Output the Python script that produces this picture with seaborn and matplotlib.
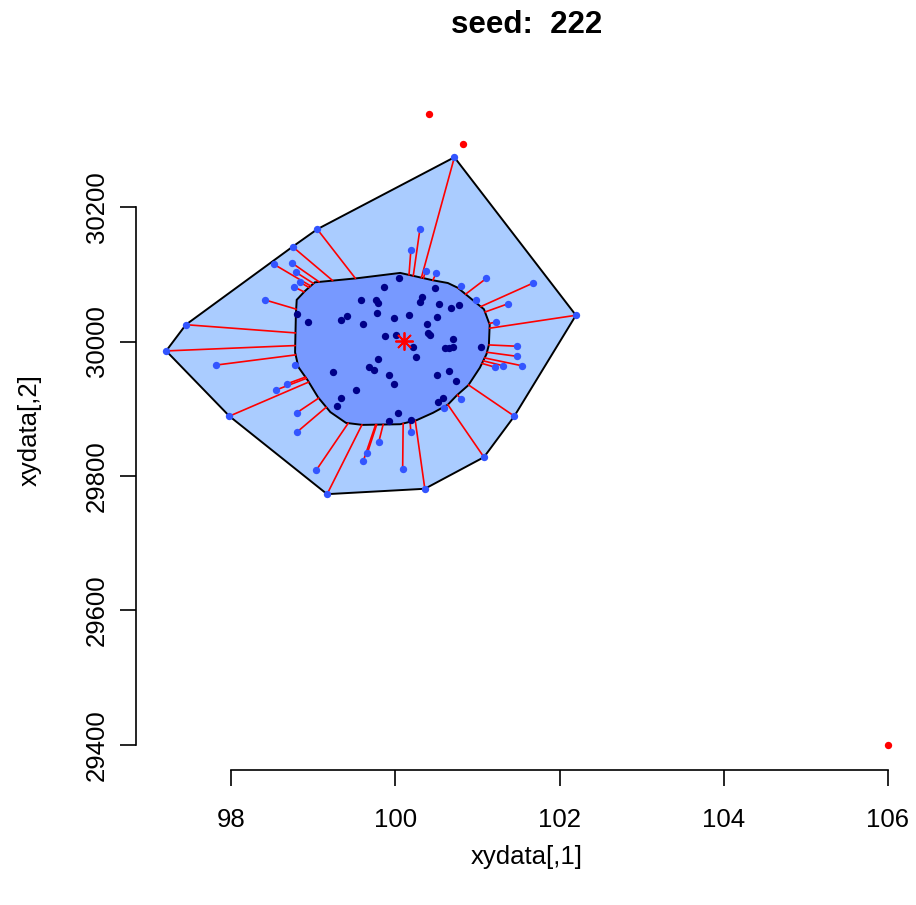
import numpy as np
import pandas as pd
import matplotlib
matplotlib.use("Agg")
import matplotlib.pyplot as plt
import seaborn as sns
from matplotlib.patches import Polygon

# ---- data -------------------------------------------------------------
# points inside the bag (depth region holding the central half)
bag_x = [100.05, 99.86, 100.48, 99.58, 99.77, 99.79, 100.33, 100.30, 100.53, 100.68,
         100.78, 98.80, 98.94, 99.34, 99.41, 99.78, 99.61, 99.98, 100.17, 100.51,
         100.39, 99.88, 100.01, 100.40, 100.42, 100.70, 100.22, 100.61, 100.65, 100.70,
         101.04, 100.25, 99.79, 99.68, 99.74, 99.24, 99.92, 99.98, 100.51, 100.65,
         100.74, 99.52, 99.34, 99.29, 100.58, 100.52, 100.03, 99.92, 100.19]
bag_y = [30094, 30081, 30080, 30062, 30062, 30057, 30066, 30059, 30056, 30050,
         30054, 30041, 30029, 30032, 30038, 30042, 30026, 30035, 30039, 30036,
         30026, 30008, 30010, 30013, 30010, 30004, 29992, 29990, 29990, 29992,
         29992, 29977, 29974, 29962, 29958, 29955, 29950, 29937, 29950, 29956,
         29941, 29928, 29916, 29904, 29916, 29910, 29894, 29882, 29883]

# points between the bag and the loop (fence)
loop_x = [100.72, 99.05, 100.30, 98.75, 100.19, 98.52, 98.74, 100.37, 100.50, 98.79,
          98.84, 98.77, 100.80, 101.11, 101.68, 98.41, 101.37, 100.98, 101.23, 97.45,
          102.20, 97.21, 101.48, 101.48, 97.82, 98.78, 101.54, 101.31, 101.21, 98.68,
          98.55, 97.98, 98.80, 98.80, 101.45, 100.80, 100.59, 101.08, 100.19, 100.09,
          100.36, 99.80, 99.66, 99.61, 99.04, 99.17]
loop_y = [30274, 30167, 30167, 30141, 30136, 30115, 30117, 30105, 30102, 30103,
          30088, 30081, 30083, 30094, 30087, 30062, 30056, 30062, 30029, 30025,
          30039, 29986, 29993, 29978, 29965, 29965, 29964, 29964, 29962, 29937,
          29928, 29889, 29894, 29865, 29889, 29915, 29901, 29828, 29865, 29810,
          29781, 29851, 29834, 29822, 29809, 29773]

# points outside the loop
out_x = [100.41, 100.83, 106.00]
out_y = [30338, 30294, 29400]

# depth median
center_x = [100.107]
center_y = [30000.7]

# vertices of the bag outline
baghull_x = [98.90, 99.02, 99.53, 100.06, 100.46, 100.64, 100.76, 101.08, 101.15,
             101.14, 101.11, 101.03, 100.89, 100.75, 100.64, 100.46, 100.26, 100.06, 99.60,
             99.40, 99.21, 99.06, 98.93, 98.82, 98.78, 98.79, 98.80]
baghull_y = [30075, 30088, 30094, 30102, 30091, 30087, 30080, 30048, 30025,
             29995, 29981, 29961, 29935, 29920, 29906, 29894, 29883, 29877, 29876,
             29879, 29895, 29917, 29943, 29962, 29984, 30041, 30062]

x_ticks = [98, 100, 102, 104, 106]
y_ticks = [29400, 29600, 29800, 30000, 30200]

title = "seed:  222"
x_label = "xydata[,1]"
y_label = "xydata[,2]"

# ---- geometry helpers --------------------------------------------------
def convex_hull(pts):
    pts = sorted(map(tuple, pts))
    def cross(o, a, b):
        return (a[0] - o[0]) * (b[1] - o[1]) - (a[1] - o[1]) * (b[0] - o[0])
    lower, upper = [], []
    for p in pts:
        while len(lower) >= 2 and cross(lower[-2], lower[-1], p) <= 0:
            lower.pop()
        lower.append(p)
    for p in reversed(pts):
        while len(upper) >= 2 and cross(upper[-2], upper[-1], p) <= 0:
            upper.pop()
        upper.append(p)
    return np.array(lower[:-1] + upper[:-1])


def ray_hit(c, p, poly):
    """Point where the segment centre->p leaves the polygon."""
    best = 0.0
    n = len(poly)
    d = p - c
    for i in range(n):
        a, b = poly[i], poly[(i + 1) % n]
        e = b - a
        den = d[0] * e[1] - d[1] * e[0]
        if abs(den) < 1e-12:
            continue
        w = a - c
        t = (w[0] * e[1] - w[1] * e[0]) / den
        s = (w[0] * d[1] - w[1] * d[0]) / den
        if 0 <= s <= 1 and 0 <= t <= 1:
            best = max(best, t)
    return c + best * d

# ---- figure -------------------------------------------------------------
sns.set_style("white")
plt.rcParams["font.family"] = ["Liberation Sans", "DejaVu Sans"]
plt.rcParams.update({"text.color": "black", "axes.labelcolor": "black",
                     "xtick.color": "black", "ytick.color": "black"})

W, H = 916, 905
fig = plt.figure(figsize=(W / 100, H / 100), dpi=100)
ax = fig.add_axes([136 / W, 135 / H, 780 / W, 681 / H])
ax.set_xlim(96.843, 106.341)
ax.set_ylim(29362.8, 30375.5)

bag_df = pd.DataFrame({"x": bag_x, "y": bag_y})
loop_df = pd.DataFrame({"x": loop_x, "y": loop_y})
out_df = pd.DataFrame({"x": out_x, "y": out_y})

inner = np.column_stack([bag_x + loop_x, bag_y + loop_y]).astype(float)
loop_hull = convex_hull(inner)
bag_poly = np.column_stack([baghull_x, baghull_y]).astype(float)

ax.add_patch(Polygon(loop_hull, closed=True, facecolor="#aaccff",
                     edgecolor="black", lw=1.4, zorder=1))
ax.add_patch(Polygon(bag_poly, closed=True, facecolor="#7799ff",
                     edgecolor="black", lw=1.4, zorder=2))

c = np.array([center_x[0], center_y[0]])
for px, py in zip(loop_x, loop_y):
    p = np.array([px, py], dtype=float)
    q = ray_hit(c, p, bag_poly)
    ax.plot([q[0], p[0]], [q[1], p[1]], color="red", lw=1.2, zorder=3)

sns.scatterplot(data=loop_df, x="x", y="y", ax=ax, color="#3355ff",
                s=28, linewidth=0, zorder=4, clip_on=False)
sns.scatterplot(data=bag_df, x="x", y="y", ax=ax, color="#000088",
                s=28, linewidth=0, zorder=5, clip_on=False)
sns.scatterplot(data=out_df, x="x", y="y", ax=ax, color="red",
                s=28, linewidth=0, zorder=5, clip_on=False)
ax.plot(center_x, center_y, marker=(8, 2, 0), color="red", markersize=13,
        mew=1.3, ls="none", zorder=6)

# base-graphics style axes
for side in ("top", "right"):
    ax.spines[side].set_visible(False)
ax.spines["left"].set_bounds(y_ticks[0], y_ticks[-1])
ax.spines["bottom"].set_bounds(x_ticks[0], x_ticks[-1])
for side in ("left", "bottom"):
    ax.spines[side].set_linewidth(1.2)
    ax.spines[side].set_color("black")
ax.set_xticks(x_ticks)
ax.set_yticks(y_ticks)
ax.set_xticklabels([str(v) for v in x_ticks])
ax.set_yticklabels([str(v) for v in y_ticks], rotation=90, va="center")
ax.tick_params(axis="both", direction="out", length=11.5, width=1.2,
               color="black", labelsize=18.5, labelcolor="black",
               bottom=True, left=True)
ax.tick_params(axis="x", pad=16)
ax.tick_params(axis="y", pad=8)
ax.set_xlabel("")
ax.set_ylabel("")
ax.grid(False)

fig.text((136 + 917) / 2 / W, 1 - 25 / H, title, ha="center", va="center",
         fontsize=22.5, fontweight="bold")
fig.text((136 + 917) / 2 / W, 1 - 857 / H, x_label, ha="center", va="center",
         fontsize=18.5)
fig.text(30 / W, 1 - 430 / H, y_label, ha="center", va="center",
         rotation=90, fontsize=18.5)

fig.savefig("out.png", dpi=100)
